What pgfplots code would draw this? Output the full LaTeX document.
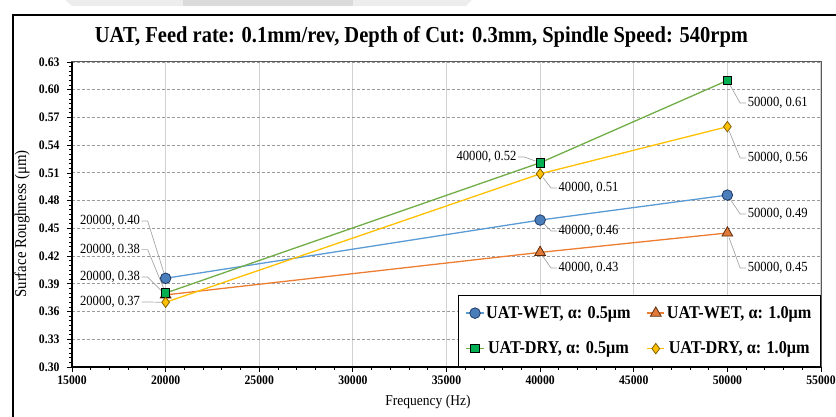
\documentclass[border=0pt]{standalone}
\usepackage{pgfplots}
\pgfplotsset{compat=1.18}
\usepackage{fontspec}
\setmainfont{Liberation Serif}[FakeStretch=0.9]
\definecolor{cblue}{HTML}{5B9BD5}
\definecolor{cbluefill}{HTML}{4A7EBB}
\definecolor{cblueedge}{HTML}{1F3864}
\definecolor{corange}{HTML}{ED7D31}
\definecolor{corangefill}{HTML}{E07A38}
\definecolor{corangeedge}{HTML}{5A2A0A}
\definecolor{cgreen}{HTML}{70AD47}
\definecolor{cgreenfill}{HTML}{00B050}
\definecolor{cyellow}{HTML}{FFC000}
\definecolor{cyellowedge}{HTML}{7F6000}
\definecolor{leadgray}{HTML}{A6A6A6}
\tikzset{
  lbl/.style={font=\fontsize{14}{16}\selectfont, inner sep=1.5pt},
  leader/.style={draw=leadgray, line width=0.7pt, shorten >=5pt},
}
\begin{document}
\begin{tikzpicture}
\path[use as bounding box] (-72pt,-50pt) rectangle (764pt,367pt);
% screenshot artifact at top
\fill[black!7] (-7pt,367pt) -- (400pt,367pt) -- (394pt,361pt) -- (0pt,361pt) -- cycle;
\fill[black!14] (111pt,367pt) -- (281pt,367pt) -- (281pt,361pt) -- (111pt,361pt) -- cycle;
% outer frame
\draw[line width=2.5pt] (-59pt,-70pt) -- (-59pt,352pt) -- (790pt,352pt);
\begin{axis}[
  at={(0pt,0pt)}, anchor=south west,
  scale only axis, width=749pt, height=305pt,
  xmin=15000, xmax=55000, ymin=0.30, ymax=0.63,
  xtick={15000,20000,25000,30000,35000,40000,45000,50000,55000},
  ytick={0.30,0.33,0.36,0.39,0.42,0.45,0.48,0.51,0.54,0.57,0.60,0.63},
  minor x tick num=4, minor y tick num=5,
  tick align=outside, tick pos=left,
  major tick length=5pt, minor tick length=3pt,
  every tick/.style={black, line width=0.8pt},
  xmajorgrids, ymajorgrids,
  x grid style={draw=black!18, line width=1.1pt},
  y grid style={draw=black!40, dash pattern=on 3pt off 2pt, line width=0.9pt},
  axis line style={draw=black!65, line width=1pt},
  ticklabel style={font=\fontsize{13}{15}\selectfont\bfseries},
  /pgf/number format/assume math mode=true,
  xticklabel style={/pgf/number format/1000 sep={}},
  yticklabel style={xshift=-4pt, /pgf/number format/.cd, fixed, fixed zerofill, precision=2},
  scaled x ticks=false,
  clip=false,
  legend columns=2,
  legend style={at={(1,0)}, anchor=south east, draw=black, line width=1.3pt,
    font=\fontsize{18}{20}\selectfont\bfseries,
    /tikz/every even column/.append style={column sep=14pt},
    row sep=18pt, inner xsep=7pt, inner ysep=9pt},
]
\addplot[color=cblue, line width=1.3pt, mark=*, mark size=5.3pt,
  mark options={fill=cbluefill, draw=cblueedge, line width=0.8pt}]
  coordinates {(20000,0.396) (40000,0.459) (50000,0.486)};
\addlegendentry{UAT-WET, α: 0.5μm}
\addplot[color=corange, line width=1.3pt, mark=triangle*, mark size=6.2pt,
  mark options={fill=corangefill, draw=corangeedge, line width=0.8pt}]
  coordinates {(20000,0.378) (40000,0.424) (50000,0.445)};
\addlegendentry{UAT-WET, α: 1.0μm}
\addplot[color=cgreen, line width=1.3pt, mark=square*, mark size=4.2pt,
  mark options={fill=cgreenfill, draw=black, line width=0.8pt}]
  coordinates {(20000,0.380) (40000,0.521) (50000,0.610)};
\addlegendentry{UAT-DRY, α: 0.5μm}
\addplot[color=cyellow, line width=1.3pt, mark=diamond*, mark size=5.2pt,
  mark options={fill=cyellow, draw=cyellowedge, line width=0.8pt}]
  coordinates {(20000,0.370) (40000,0.509) (50000,0.560)};
\addlegendentry{UAT-DRY, α: 1.0μm}
% black left and bottom axis lines
\draw[black, line width=1.4pt] (rel axis cs:0,1) -- (rel axis cs:0,0) -- (rel axis cs:1,0);
% data labels
\node[lbl, anchor=east] (a1) at (axis cs:18720,0.458) {20000, 0.40};
\node[lbl, anchor=east] (a2) at (axis cs:18720,0.427) {20000, 0.38};
\node[lbl, anchor=east] (a3) at (axis cs:18720,0.3974) {20000, 0.38};
\node[lbl, anchor=east] (a4) at (axis cs:18720,0.3703) {20000, 0.37};
\draw[leader] (a1.east) -- ++(6pt,0pt) -- (axis cs:20000,0.396);
\draw[leader] (a2.east) -- ++(6pt,0pt) -- (axis cs:20000,0.380);
\draw[leader] (a3.east) -- ++(6pt,0pt) -- (axis cs:20000,0.378);
\draw[leader] (a4.east) -- ++(6pt,0pt) -- (axis cs:20000,0.370);
\node[lbl, anchor=east] (c4) at (axis cs:38827,0.5273) {40000, 0.52};
\node[lbl, anchor=west] (c1) at (axis cs:40900,0.4937) {40000, 0.51};
\node[lbl, anchor=west] (c2) at (axis cs:40900,0.4472) {40000, 0.46};
\node[lbl, anchor=west] (c3) at (axis cs:40900,0.4071) {40000, 0.43};
\draw[leader] (c4.east) -- ++(6pt,0pt) -- (axis cs:40000,0.521);
\draw[leader] (c1.west) -- ++(-6pt,0pt) -- (axis cs:40000,0.509);
\draw[leader] (c2.west) -- ++(-6pt,0pt) -- (axis cs:40000,0.459);
\draw[leader] (c3.west) -- ++(-6pt,0pt) -- (axis cs:40000,0.424);
\node[lbl, anchor=west] (b1) at (axis cs:51000,0.5857) {50000, 0.61};
\node[lbl, anchor=west] (b2) at (axis cs:51000,0.5262) {50000, 0.56};
\node[lbl, anchor=west] (b3) at (axis cs:51000,0.4656) {50000, 0.49};
\node[lbl, anchor=west] (b4) at (axis cs:51000,0.4071) {50000, 0.45};
\draw[leader] (b1.west) -- ++(-6pt,0pt) -- (axis cs:50000,0.610);
\draw[leader] (b2.west) -- ++(-6pt,0pt) -- (axis cs:50000,0.560);
\draw[leader] (b3.west) -- ++(-6pt,0pt) -- (axis cs:50000,0.486);
\draw[leader] (b4.west) -- ++(-6pt,0pt) -- (axis cs:50000,0.445);
\end{axis}
\node[font=\fontsize{22.8}{26}\selectfont\bfseries] at (349.5pt,330pt)
  {UAT, Feed rate: 0.1mm/rev, Depth of Cut: 0.3mm, Spindle Speed: 540rpm};
\node[font=\fontsize{15}{17}\selectfont] at (356pt,-35pt) {Frequency (Hz)};
\node[font=\fontsize{16.5}{18}\selectfont, rotate=90] at (-50pt,143pt) {Surface Roughness (μm)};
\end{tikzpicture}
\end{document}
